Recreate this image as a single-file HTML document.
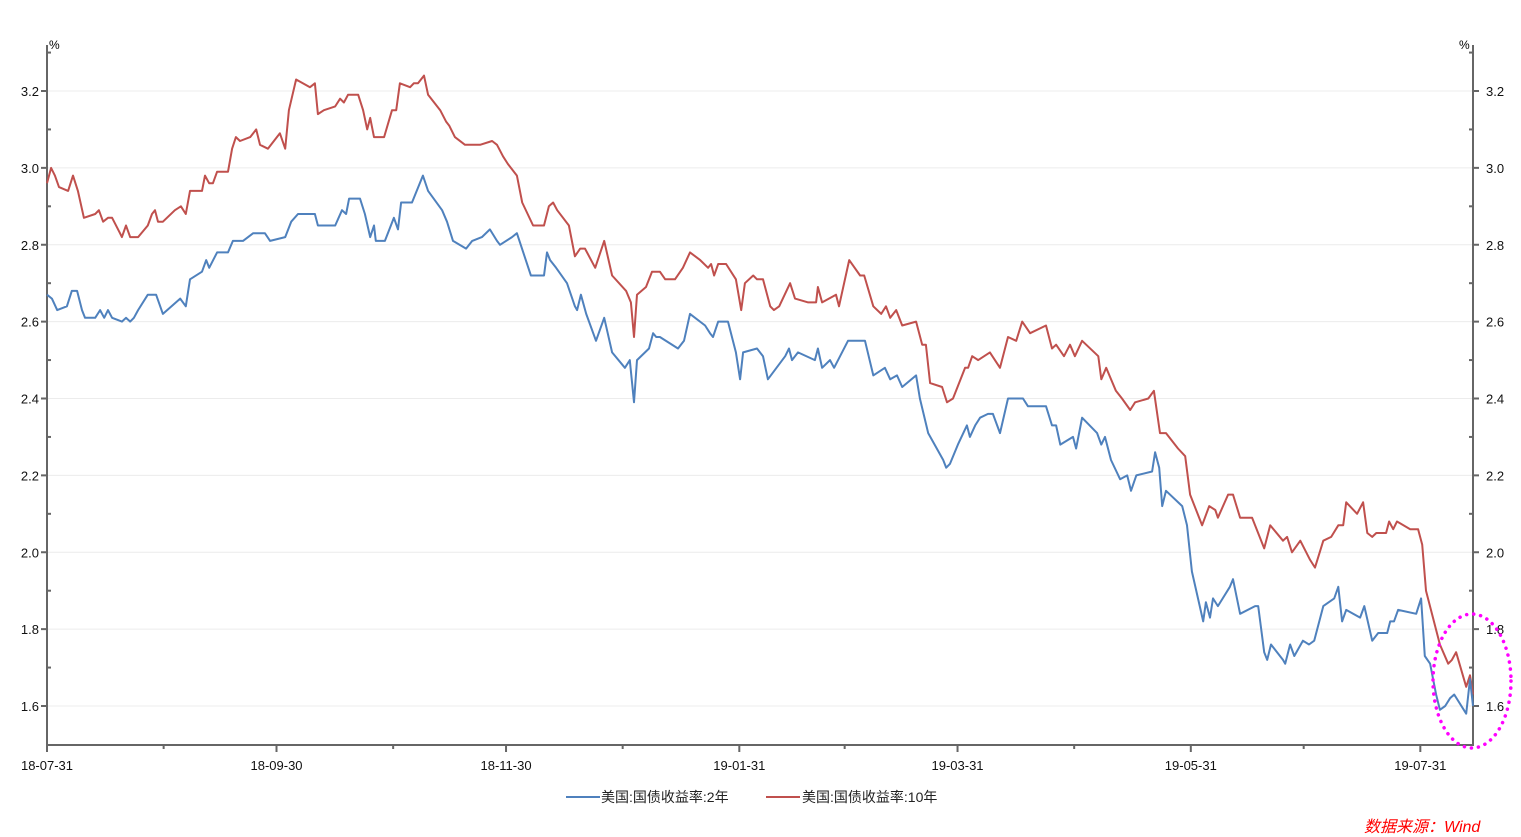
<!DOCTYPE html>
<html><head><meta charset="utf-8"><style>
html,body{margin:0;padding:0;background:#fff;}
svg{display:block;font-family:"Liberation Sans","Noto Sans CJK SC",sans-serif;}
</style></head><body>
<svg id="chart" width="1521" height="837">
<g id="grid"></g>
<g id="axes"></g>
<g id="series"></g>
<text x="49" y="49" font-size="12">%</text>
<text x="1459" y="49" font-size="12">%</text>
<g>
<line x1="566" y1="797" x2="600" y2="797" stroke="#4f81bd" stroke-width="2"/>
<text x="601" y="802" font-size="14" fill="#222">美国:国债收益率:2年</text>
<line x1="766" y1="797" x2="800" y2="797" stroke="#c0504d" stroke-width="2"/>
<text x="802" y="802" font-size="14" fill="#222">美国:国债收益率:10年</text>
</g>
<text x="1364" y="832" font-size="16" font-style="italic" fill="#ff0000">数据来源：Wind</text>
<ellipse cx="1472" cy="681" rx="39" ry="67" fill="none" stroke="#ff00ff" stroke-width="3.5" stroke-dasharray="0.1 7" stroke-linecap="round"/>
</svg>
<script>
const days2y=[0,1.3,2.7,5.3,6.6,8.0,9.3,10.1,12.8,14.1,15.2,16.2,17.3,19.9,21.0,22.1,23.1,24.2,26.8,29.0,30.8,35.4,36.9,38.0,41.2,42.3,43.1,45.2,48.1,49.4,52.1,54.8,57.9,59.3,63.3,64.9,66.7,71.2,72.0,76.6,78.4,79.5,80.3,83.2,84.5,85.9,86.9,87.4,89.8,92.2,93.3,94.1,97.0,99.9,101.3,105.0,106.3,107.9,111.4,113.0,115.6,117.7,119.6,120.4,123.6,124.9,128.6,132.1,132.9,133.7,135.3,138.2,140.3,140.9,141.9,143.3,145.9,148.1,150.2,153.6,154.9,156.0,156.8,160.0,161.1,161.9,162.9,167.7,169.3,170.9,174.9,176.2,177.0,178.4,181.0,183.1,184.2,185.0,188.7,190.3,191.6,196.2,197.2,198.0,199.6,204.1,204.9,206.0,208.1,209.2,212.9,217.4,219.6,222.7,224.1,225.9,227.3,231.0,232.0,234.2,238.2,239.0,240.0,242.1,244.5,245.3,246.7,248.0,250.1,251.4,253.3,255.4,258.1,259.4,260.7,265.5,267.1,268.2,269.3,272.7,273.5,275.1,279.1,280.2,281.2,282.8,285.2,287.1,288.1,289.5,293.7,294.5,295.6,296.4,297.4,301.7,303.0,304.3,307.3,308.0,309.1,309.9,311.2,314.4,315.2,317.1,321.1,321.9,323.5,324.3,325.3,328.5,329.1,330.4,331.5,333.8,335.4,336.8,339.2,342.1,343.2,344.2,345.3,349.0,350.1,352.2,353.8,356.2,357.0,358.0,359.1,363.9,365.2,366.2,367.6,369.2,370.2,371.6,372.9,374.0,377.2,378.2,379.0];
const yield2y=[2.67,2.66,2.63,2.64,2.68,2.68,2.63,2.61,2.61,2.63,2.61,2.63,2.61,2.60,2.61,2.60,2.61,2.63,2.67,2.67,2.62,2.66,2.64,2.71,2.73,2.76,2.74,2.78,2.78,2.81,2.81,2.83,2.83,2.81,2.82,2.86,2.88,2.88,2.85,2.85,2.89,2.88,2.92,2.92,2.88,2.82,2.85,2.81,2.81,2.87,2.84,2.91,2.91,2.98,2.94,2.89,2.86,2.81,2.79,2.81,2.82,2.84,2.81,2.80,2.82,2.83,2.72,2.72,2.78,2.76,2.74,2.70,2.64,2.63,2.67,2.62,2.55,2.61,2.52,2.48,2.50,2.39,2.50,2.53,2.57,2.56,2.56,2.53,2.55,2.62,2.59,2.57,2.56,2.60,2.60,2.52,2.45,2.52,2.53,2.51,2.45,2.51,2.53,2.50,2.52,2.50,2.53,2.48,2.50,2.48,2.55,2.55,2.46,2.48,2.45,2.46,2.43,2.46,2.40,2.31,2.24,2.22,2.23,2.28,2.33,2.30,2.33,2.35,2.36,2.36,2.31,2.40,2.40,2.40,2.38,2.38,2.33,2.33,2.28,2.30,2.27,2.35,2.31,2.28,2.30,2.24,2.19,2.20,2.16,2.20,2.21,2.26,2.22,2.12,2.16,2.12,2.07,1.95,1.82,1.87,1.83,1.88,1.86,1.91,1.93,1.84,1.86,1.86,1.74,1.72,1.76,1.72,1.71,1.76,1.73,1.77,1.76,1.77,1.86,1.88,1.91,1.82,1.85,1.83,1.86,1.77,1.79,1.79,1.82,1.82,1.85,1.84,1.88,1.73,1.71,1.63,1.59,1.60,1.62,1.63,1.58,1.67,1.60];
const days10y=[0,1.1,2.1,3.2,5.6,6.9,8.2,9.8,12.8,13.8,14.9,16.2,17.3,19.4,19.9,21.0,22.1,24.2,26.8,27.9,28.7,29.5,30.8,34.0,35.6,36.9,38.0,41.2,42.0,43.1,44.1,45.2,48.1,49.2,50.2,51.3,54.0,55.6,56.6,58.7,61.9,63.3,64.3,66.2,69.9,71.2,72.0,73.6,76.6,77.9,78.9,80.0,82.7,84.0,85.1,85.9,86.9,89.6,91.7,92.8,93.8,96.5,97.5,98.6,100.2,101.3,104.5,106.1,106.9,108.4,111.1,113.8,115.1,118.3,119.6,121.2,122.5,124.9,126.3,129.2,132.1,133.4,134.5,135.6,138.7,140.3,141.7,143.0,145.7,148.1,150.2,153.9,155.2,156.0,156.8,159.2,160.8,162.9,164.3,166.9,169.0,170.9,173.6,175.7,176.5,177.3,178.4,180.5,183.1,184.5,185.5,187.7,188.7,190.3,192.2,193.2,194.6,197.5,198.8,202.3,204.4,204.9,206.0,209.7,210.5,213.2,216.1,217.2,219.6,221.7,223.0,224.1,225.7,227.3,231.0,232.6,233.6,234.7,237.9,239.2,240.8,244.0,244.8,245.9,247.5,250.6,253.3,255.4,257.6,259.2,261.3,265.5,267.1,268.2,270.3,271.9,273.2,275.1,279.4,280.2,281.5,284.1,285.7,287.9,289.2,292.7,294.2,295.8,297.4,300.6,302.5,303.8,307.0,308.9,310.5,311.2,313.9,315.2,317.1,320.3,323.5,325.1,328.5,329.6,330.9,333.1,335.7,337.0,339.2,341.3,343.2,344.5,345.3,348.2,349.8,350.9,352.2,353.3,355.9,356.7,357.8,358.8,362.3,364.4,365.5,366.5,370.2,372.4,373.4,374.5,377.2,378.2,379.0];
const yield10y=[2.96,3.00,2.98,2.95,2.94,2.98,2.94,2.87,2.88,2.89,2.86,2.87,2.87,2.83,2.82,2.85,2.82,2.82,2.85,2.88,2.89,2.86,2.86,2.89,2.90,2.88,2.94,2.94,2.98,2.96,2.96,2.99,2.99,3.05,3.08,3.07,3.08,3.10,3.06,3.05,3.09,3.05,3.15,3.23,3.21,3.22,3.14,3.15,3.16,3.18,3.17,3.19,3.19,3.15,3.10,3.13,3.08,3.08,3.15,3.15,3.22,3.21,3.22,3.22,3.24,3.19,3.15,3.12,3.11,3.08,3.06,3.06,3.06,3.07,3.06,3.03,3.01,2.98,2.91,2.85,2.85,2.90,2.91,2.89,2.85,2.77,2.79,2.79,2.74,2.81,2.72,2.68,2.65,2.56,2.67,2.69,2.73,2.73,2.71,2.71,2.74,2.78,2.76,2.74,2.75,2.72,2.75,2.75,2.71,2.63,2.70,2.72,2.71,2.71,2.64,2.63,2.64,2.70,2.66,2.65,2.65,2.69,2.65,2.67,2.64,2.76,2.72,2.72,2.64,2.62,2.64,2.61,2.63,2.59,2.60,2.54,2.54,2.44,2.43,2.39,2.40,2.48,2.48,2.51,2.50,2.52,2.48,2.56,2.55,2.60,2.57,2.59,2.53,2.54,2.51,2.54,2.51,2.55,2.51,2.45,2.48,2.42,2.40,2.37,2.39,2.40,2.42,2.31,2.31,2.27,2.25,2.15,2.07,2.12,2.11,2.09,2.15,2.15,2.09,2.09,2.01,2.07,2.03,2.04,2.00,2.03,1.98,1.96,2.03,2.04,2.07,2.07,2.13,2.10,2.13,2.05,2.04,2.05,2.05,2.08,2.06,2.08,2.06,2.06,2.02,1.90,1.76,1.71,1.72,1.74,1.65,1.68,1.63];
const yTickValues=[1.6,1.8,2.0,2.2,2.4,2.6,2.8,3.0,3.2];
const yTickLabels=["1.6","1.8","2.0","2.2","2.4","2.6","2.8","3.0","3.2"];
const xTickDays=[0,61,122,184,242,304,365];
const xTickLabels=["18-07-31","18-09-30","18-11-30","19-01-31","19-03-31","19-05-31","19-07-31"];
const xMinorDays=[31,92,153,212,273,334];

const NS="http://www.w3.org/2000/svg";
const L=47,R=1473,T=45,B=745;
const xS=d=>L+(d-0)*(R-L)/379;
const yS=v=>91+(3.2-v)*(706-91)/1.6;
function mk(tag,attrs,parent){const e=document.createElementNS(NS,tag);for(const k in attrs)e.setAttribute(k,attrs[k]);parent.appendChild(e);return e;}
const grid=document.getElementById('grid'),axes=document.getElementById('axes'),ser=document.getElementById('series');
yTickValues.forEach((v,i)=>{
  const y=yS(v);
  const g=mk('line',{x1:L,x2:R,y1:y,y2:y,stroke:'#ececec','stroke-width':1},grid);
  
  
  const t1=mk('line',{x1:L-6,x2:L,y1:y,y2:y,stroke:'#666','stroke-width':2},axes);
  
  
  const t2=mk('line',{x1:R,x2:R+6,y1:y,y2:y,stroke:'#666','stroke-width':2},axes);
  
  
  const lb=mk('text',{x:L-8,y:y+5,'font-size':13,'text-anchor':'end',fill:'#111'},axes);
  lb.textContent=yTickLabels[i];
  
  
  const rb=mk('text',{x:R+13,y:y+5,'font-size':13,fill:'#111'},axes);
  rb.textContent=yTickLabels[i];
  
  
});
for(let v=1.5;v<=3.31;v+=0.2){
  const y=yS(v);
  if(y<T||y>B-2)continue;
  const a=mk('line',{x1:L,x2:L+4,y1:y,y2:y,stroke:'#666','stroke-width':2},axes);
  
  
  const b=mk('line',{x1:R-4,x2:R,y1:y,y2:y,stroke:'#666','stroke-width':2},axes);
  
  
}
const la=mk('line',{x1:L,x2:L,y1:T,y2:B,stroke:'#666','stroke-width':2},axes);


const ra=mk('line',{x1:R,x2:R,y1:T,y2:B,stroke:'#666','stroke-width':2},axes);


const xa=mk('line',{x1:L-1,x2:R+1,y1:B,y2:B,stroke:'#666','stroke-width':2},axes);


xTickDays.forEach((d,i)=>{
  const x=xS(d);
  const t=mk('line',{x1:x,x2:x,y1:B,y2:B+7,stroke:'#666','stroke-width':2},axes);
  
  
  const lb=mk('text',{x:x,y:B+25,'font-size':13,'text-anchor':'middle',fill:'#111'},axes);
  lb.textContent=xTickLabels[i];
  
  
});
xMinorDays.forEach(d=>{
  const x=xS(d);
  const t=mk('line',{x1:x,x2:x,y1:B,y2:B+4,stroke:'#666','stroke-width':2},axes);
  
  
});
function line(days,vals,color,name){
  const p=days.map((d,i)=>(i?'L':'M')+xS(d).toFixed(1)+','+yS(vals[i]).toFixed(1)).join('');
  const e=mk('path',{d:p,fill:'none',stroke:color,'stroke-width':2,'stroke-linejoin':'round'},ser);
  
  
}
line(days10y,yield10y,'#c0504d','line-10y-yield');
line(days2y,yield2y,'#4f81bd','line-2y-yield');
</script>
</body></html>
